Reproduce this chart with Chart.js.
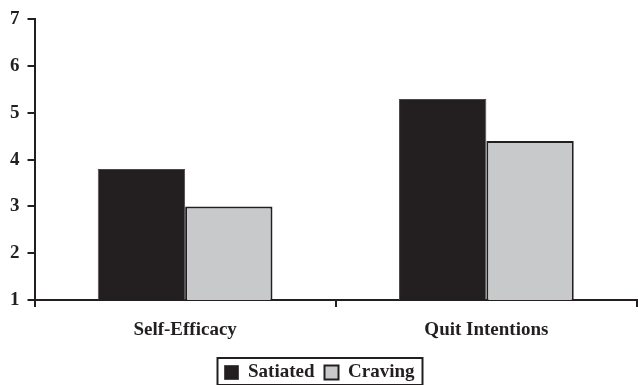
<html>
<head>
    <meta charset="utf-8">
    <script src="https://cdn.jsdelivr.net/npm/chart.js"></script>
    <title>Satiated vs Craving</title>
</head>
<body style="margin: 0; background-color: #ffffff;">
    <div style="width: 638px; height: 385px;">
        <canvas id="myChart" width="638" height="385"></canvas>
    </div>

    <script>
        // ** DATA
        const categories = ["Self-Efficacy", "Quit Intentions"];
        const satiated = [3.8, 5.3];
        const craving = [3.0, 4.4];
        const yTicks = [1, 2, 3, 4, 5, 6, 7];

        const ink = "#231f20";
        const serif = "'Liberation Serif', 'Times New Roman', serif";

        // draws a frame round the legend items
        const legendFrame = {
            id: "legendFrame",
            afterDraw(chart) {
                const boxes = chart.legend.legendHitBoxes;
                if (!boxes || !boxes.length) return;
                let l = Infinity, r = -Infinity, t = Infinity, b = -Infinity;
                boxes.forEach(h => {
                    l = Math.min(l, h.left);
                    r = Math.max(r, h.left + h.width);
                    t = Math.min(t, h.top);
                    b = Math.max(b, h.top + h.height);
                });
                const ctx = chart.ctx;
                ctx.save();
                ctx.strokeStyle = ink;
                ctx.lineWidth = 2;
                ctx.strokeRect(l - 7, t - 5, r - l + 15, b - t + 8);
                ctx.restore();
            }
        };

        const data = {
            labels: categories,
            datasets: [{
                label: "Satiated",
                data: satiated,
                backgroundColor: ink,
                borderColor: "#4a4849",
                borderWidth: 1,
            }, {
                label: "Craving",
                data: craving,
                backgroundColor: "#c8c9cb",
                borderColor: ink,
                borderWidth: 2,
            }],
        };

        const config = {
            type: "bar",
            data: data,
            plugins: [legendFrame],
            options: {
                responsive: false,
                animation: false,
                layout: {
                    padding: { left: 2, right: 1, top: 7, bottom: -7 },
                },
                datasets: {
                    bar: {
                        barPercentage: 1.0,
                        categoryPercentage: 0.58,
                    },
                },
                plugins: {
                    tooltip: { enabled: false },
                    legend: {
                        position: "bottom",
                        labels: {
                            color: ink,
                            boxWidth: 14,
                            boxHeight: 14,
                            padding: 10,
                            font: { family: serif, size: 19, weight: "bold", lineHeight: 1.0 },
                        },
                    },
                },
                scales: {
                    x: {
                        afterFit(scale) {
                            scale.height -= 1;
                        },
                        grid: {
                            drawOnChartArea: false,
                            drawTicks: true,
                            tickLength: 7,
                            color: ink,
                            lineWidth: 2,
                        },
                        border: { color: ink, width: 2 },
                        ticks: {
                            color: ink,
                            padding: 14,
                            font: { family: serif, size: 19, weight: "bold", lineHeight: 1.0 },
                        },
                    },
                    y: {
                        min: yTicks[0],
                        max: yTicks[yTicks.length - 1],
                        afterBuildTicks(axis) {
                            axis.ticks = yTicks.map(v => ({ value: v }));
                        },
                        grid: {
                            drawOnChartArea: false,
                            drawTicks: true,
                            tickLength: 7,
                            color: ink,
                            lineWidth: 2,
                        },
                        border: { color: ink, width: 2 },
                        ticks: {
                            color: ink,
                            padding: 8,
                            font: { family: serif, size: 19, weight: "bold" },
                        },
                    },
                },
            },
        };

        const ctx = document.getElementById("myChart").getContext("2d");
        myChart = new Chart(ctx, config);
    </script>
</body>
</html>
